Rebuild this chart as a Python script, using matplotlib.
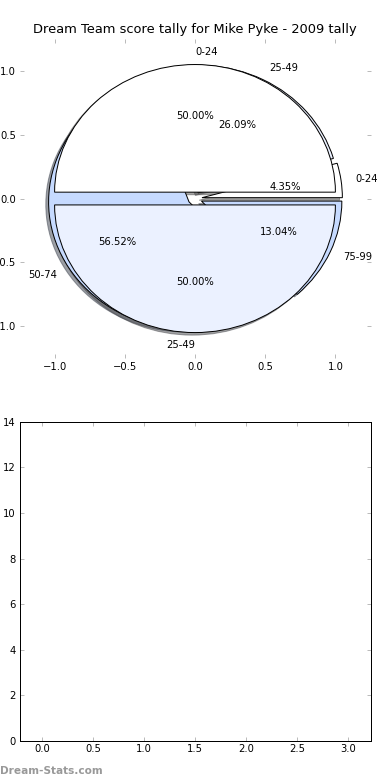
import matplotlib
matplotlib.use("Agg")
import matplotlib.pyplot as plt

# score bands and tallies
outer_labels = ["0-24", "25-49"]
outer_counts = [1, 1]
outer_colors = ["#FFFFFF", "#EBF1FF"]

inner_labels = ["0-24", "25-49", "50-74", "75-99"]
inner_counts = [1, 6, 13, 3]
inner_colors = ["#FFFFFF", "#EBF1FF", "#C6DAFF", "#C6DAFF"]

pie_ticks = [-1.0, -0.5, 0.0, 0.5, 1.0]
bar_xticks = [0.0, 0.5, 1.0, 1.5, 2.0, 2.5, 3.0]
bar_yticks = [0, 2, 4, 6, 8, 10, 12, 14]

plt.rcParams["font.family"] = ["DejaVu Sans"]
plt.rcParams["font.size"] = 10
plt.rcParams["xtick.direction"] = "in"
plt.rcParams["ytick.direction"] = "in"
plt.rcParams["xtick.top"] = True
plt.rcParams["ytick.right"] = True
plt.rcParams["xtick.major.size"] = 4
plt.rcParams["ytick.major.size"] = 4
plt.rcParams["xtick.color"] = "#aaaaaa"
plt.rcParams["ytick.color"] = "#aaaaaa"
plt.rcParams["xtick.labelcolor"] = "black"
plt.rcParams["ytick.labelcolor"] = "black"

fig = plt.figure(figsize=(390 / 72, 780 / 72), dpi=72)
ax_pie = fig.add_subplot(2, 1, 1)
ax_bar = fig.add_subplot(2, 1, 2)
fig.subplots_adjust(left=0.05, right=0.95, top=0.95, bottom=0.05, hspace=0.2)

wedge_style = {"edgecolor": "black", "linewidth": 1.0}

# the four-band pie sits underneath the two-band one
ax_pie.pie(inner_counts, labels=inner_labels, colors=inner_colors,
           explode=[0.05] * len(inner_counts), autopct="%1.2f%%",
           shadow=True, startangle=0, wedgeprops=wedge_style,
           textprops={"fontsize": 10})
_, outer_texts, _ = ax_pie.pie(outer_counts, labels=outer_labels, colors=outer_colors,
                               explode=[0.05] * len(outer_counts), autopct="%1.2f%%",
                               shadow=True, startangle=0, wedgeprops=wedge_style,
                               textprops={"fontsize": 10})
# old matplotlib put the top label to the right of centre, the bottom one to the left
outer_texts[0].set_ha("left")
outer_texts[1].set_ha("right")

ax_pie.set_aspect("auto")
ax_pie.set_frame_on(False)
ax_pie.set_xlim(-1.25, 1.25)
ax_pie.set_ylim(-1.25, 1.25)
ax_pie.set_xticks(pie_ticks)
ax_pie.set_yticks(pie_ticks)
ax_pie.set_title("Dream Team score tally for Mike Pyke - 2009 tally", fontsize=13)

ax_bar.set_xlim(-0.22, 3.22)
ax_bar.set_ylim(0, 14)
ax_bar.set_xticks(bar_xticks)
ax_bar.set_yticks(bar_yticks)
for sp in ax_bar.spines.values():
    sp.set_color("black")
    sp.set_linewidth(1.0)

fig.text(0.0, 0.012, "Dream-Stats.com", color="#999999", fontsize=10.5,
         fontweight="bold", ha="left", va="center")

fig.savefig("out.png", dpi=72, facecolor="white")
